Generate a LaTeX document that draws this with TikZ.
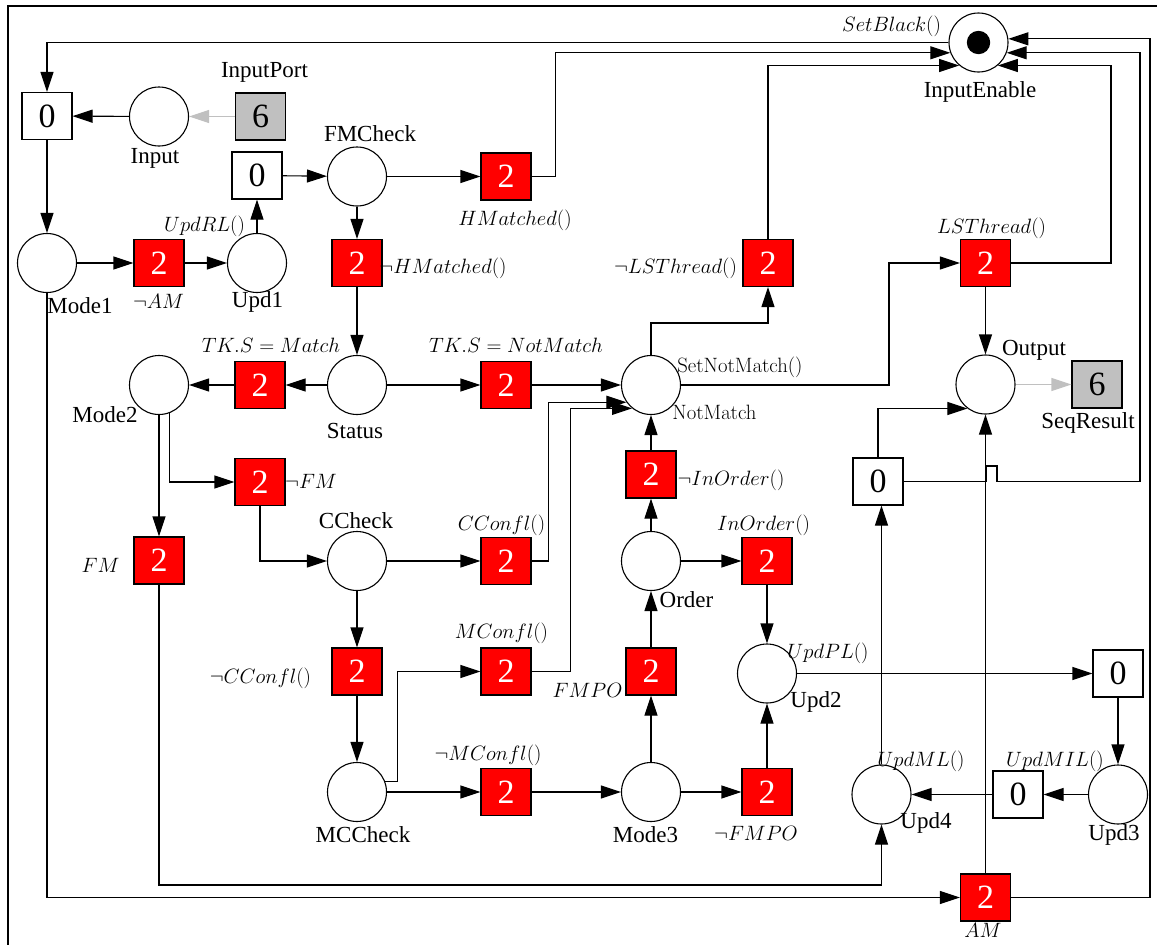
\documentclass[tikz,border=0pt]{standalone}
\usepackage[no-math]{fontspec}
\setmainfont{Liberation Serif}
\usetikzlibrary{arrows.meta,calc}
\definecolor{silver}{HTML}{C0C0C0}
\begin{document}
\begin{tikzpicture}[x=1pt,y=-1pt,
  line width=1.1pt,
  place/.style={circle,draw,fill=white,minimum size=59pt,inner sep=0pt},
  tr/.style={rectangle,draw,fill=red,minimum width=50pt,minimum height=47pt,inner sep=0pt,text=white,font=\fontsize{34}{34}\selectfont},
  zb/.style={rectangle,draw,fill=white,minimum width=50pt,minimum height=47pt,inner sep=0pt,font=\fontsize{34}{34}\selectfont},
  gb/.style={zb,fill=silver},
  lbl/.style={anchor=base,inner sep=0pt,font=\fontsize{23}{23}\selectfont},
  mlbl/.style={anchor=base,inner sep=0pt,font=\fontsize{19.5}{19.5}\selectfont},
  arr/.style={-{Triangle[length=20pt,width=13pt]}},
  garr/.style={draw=silver,-{Triangle[length=20pt,width=13pt]}}]
\useasboundingbox (0,0) rectangle (1157,945);
\clip (0,0) rectangle (1157,945);
\draw (8,960) -- (8,6) -- (1170,6);

% places
\node[place] (IE) at (978.5,42.5) {};
\fill (IE) circle[radius=11.7pt];
\node[place] (In) at (159,116.5) {};
\node[place] (FMC) at (357,176.5) {};
\node[place] (M1) at (47,263) {};
\node[place] (U1) at (257,263) {};
\node[place] (M2) at (159,385) {};
\node[place] (St) at (357,385) {};
\node[place] (CC) at (357,561) {};
\node[place] (MCC) at (357,792) {};
\node[place] (NM) at (651,385) {};
\node[place] (Or) at (651,561) {};
\node[place] (M3) at (651,792) {};
\node[place] (U2) at (767,673.5) {};
\node[place] (Out) at (985.5,384.5) {};
\node[place] (U4) at (881.5,794.5) {};
\node[place] (U3) at (1118,794.5) {};

% transitions
\node[tr] (tHM) at (506,176.5) {2};
\node[tr] (tnHM) at (357,263) {2};
\node[tr] (tnAM) at (159,263) {2};
\node[tr] (tnLS) at (768,263) {2};
\node[tr] (tLS) at (985.5,263) {2};
\node[tr] (tTKM) at (260,385) {2};
\node[tr] (tTKN) at (506,385) {2};
\node[tr] (tnFM) at (260,482) {2};
\node[tr] (tFM) at (159,560.5) {2};
\node[tr] (tCC) at (506,561) {2};
\node[tr] (tnIO) at (651,474.5) {2};
\node[tr] (tIO) at (767,561) {2};
\node[tr] (tnCC) at (357,671.5) {2};
\node[tr] (tMC) at (506,671.5) {2};
\node[tr] (tFMPO) at (651,671.5) {2};
\node[tr] (tnMC) at (506,792) {2};
\node[tr] (tnFMPO) at (767,792) {2};
\node[tr] (tAM) at (985.5,897.5) {2};

% zero boxes
\node[zb] (b0a) at (47,116) {0};
\node[zb] (b0b) at (257,175.5) {0};
\node[zb] (b0c) at (878,481.5) {0};
\node[zb] (b0d) at (1118,673.5) {0};
\node[zb] (b0e) at (1018,794.5) {0};

% gray boxes
\node[gb] (gIP) at (260.5,116.5) {6};
\node[gb] (gSR) at (1097,384.5) {6};

% edges
\draw[garr] (gIP) -- (In);
\draw[arr] (In) -- (b0a);
\draw[arr] (b0a) -- (M1);
\draw[arr] (M1) -- (tnAM);
\draw[arr] (tnAM) -- (U1);
\draw[arr] (U1) -- (b0b);
\draw[arr] (b0b) -- (FMC);
\draw[arr] (FMC) -- (tHM);
\draw[arr] (FMC) -- (tnHM);
\draw[arr] (tnHM) -- (St);
\draw[arr] (St) -- (tTKM);
\draw[arr] (tTKM) -- (M2);
\draw[arr] (St) -- (tTKN);
\draw[arr] (tTKN) -- (NM);
\draw[arr] (tHM.east) -- ++(24,0) |- (IE.200);
\draw[arr] (tnLS.north) |- (IE.230);
\draw[arr] (NM.north) -- ++(0,-32) -| (tnLS.south);
\draw[arr] (NM.east) -- (889,385) |- (tLS);
\draw[arr] (tLS.east) -- (1111,263) |- (IE.-50);
\draw[arr] (tLS) -- (Out);
\draw[garr] (Out) -- (gSR);
\draw[arr] (M2) -- (tFM);
\draw[arr] (M2.-70) |- (tnFM);
\draw[arr] (tnFM.south) |- (CC);
\draw[arr] (tFM.south) -- (159,885) -| (U4);
\draw[arr] (M1) |- (tAM);
\draw[arr] (CC) -- (tCC);
\draw[arr] (tCC.east) -- ++(17,0) |- (NM.215);
\draw[arr] (tMC.east) -- ++(39,0) |- (NM.231);
\draw[arr] (CC) -- (tnCC);
\draw[arr] (tnCC) -- (MCC);
\draw[arr] (MCC.20) -- ++(12,0) |- (tMC);
\draw[arr] (MCC) -- (tnMC);
\draw[arr] (tnMC) -- (M3);
\draw[arr] (M3) -- (tFMPO);
\draw[arr] (tFMPO) -- (Or);
\draw[arr] (Or) -- (tnIO);
\draw[arr] (tnIO) -- (NM);
\draw[arr] (Or) -- (tIO);
\draw[arr] (tIO) -- (U2);
\draw[arr] (M3) -- (tnFMPO);
\draw[arr] (tnFMPO) -- (U2);
\draw[arr] (U2) -- (b0d);
\draw[arr] (b0d) -- (U3);
\draw[arr] (U3) -- (b0e);
\draw[arr] (b0e) -- (U4);
\draw[arr] (U4.north) -- (U4.north |- b0c.south);
\draw[arr] (b0c.north) |- (Out.233);
\draw[arr] (tAM) -- (Out);
\draw[arr] (tAM.east) -- (1150,897.5) |- (IE.7);
\draw[arr] (b0c.east) -- (986,481.5) -- (986,466) -- (997,466) -- (997,481.5) -- (1140,481.5) |- (IE.-20);
\draw[arr] (IE.west) -| (b0a);

% labels
\node[lbl] at (264.5,77) {InputPort};
\node[lbl] at (155,163) {Input};
\node[lbl] at (370,141) {FMCheck};
\node[lbl] at (80,313) {Mode1};
\node[mlbl] at (158.5,308) {$\neg AM$};
\node[lbl] at (257.5,307) {Upd1};
\node[mlbl] at (204.5,231) {$UpdRL()$};
\node[mlbl] at (515,225.5) {$HMatched()$};
\node[mlbl] at (443,273) {$\neg HMatched()$};
\node[mlbl] at (675.5,273) {$\neg LSThread()$};
\node[mlbl] at (991.5,233) {$LSThread()$};
\node[mlbl] at (891.5,31) {$SetBlack()$};
\node[lbl] at (980,97) {InputEnable};
\node[mlbl] at (271,352) {$TK.S = Match$};
\node[lbl] at (105,422) {Mode2};
\node[lbl] at (355,438) {Status};
\node[mlbl] at (311,488) {$\neg FM$};
\node[mlbl] at (100.5,572) {$FM$};
\node[lbl] at (356,528) {CCheck};
\node[mlbl] at (516,352) {$TK.S = NotMatch$};
\node[mlbl] at (740,372) {$\mathrm{SetNotMatch()}$};
\node[mlbl] at (714.5,419) {$\mathrm{NotMatch}$};
\node[mlbl] at (731,485) {$\neg InOrder()$};
\node[mlbl] at (501.5,530) {$CConfl()$};
\node[mlbl] at (763.5,530) {$InOrder()$};
\node[lbl] at (686.5,607) {Order};
\node[lbl] at (1034,355) {Output};
\node[lbl] at (1088,428) {SeqResult};
\node[mlbl] at (260.5,683) {$\neg CConfl()$};
\node[lbl] at (363,842) {MCCheck};
\node[mlbl] at (501.5,638) {$MConfl()$};
\node[mlbl] at (587.5,697) {$FMPO$};
\node[mlbl] at (488,760) {$\neg MConfl()$};
\node[lbl] at (645.5,842) {Mode3};
\node[mlbl] at (756,840) {$\neg FMPO$};
\node[mlbl] at (828,658) {$UpdPL()$};
\node[lbl] at (816,707) {Upd2};
\node[mlbl] at (921,766) {$UpdML()$};
\node[mlbl] at (1055,766) {$UpdMIL()$};
\node[lbl] at (926,828) {Upd4};
\node[lbl] at (1114,840) {Upd3};
\node[mlbl] at (983,937) {$AM$};
\end{tikzpicture}
\end{document}
